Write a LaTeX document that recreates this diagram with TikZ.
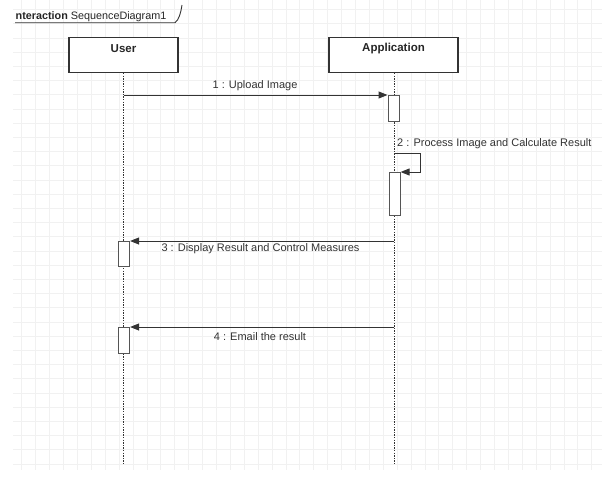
\documentclass[tikz,border=0pt]{standalone}
\usepackage{fontspec}
\setmainfont{Liberation Sans}
\usetikzlibrary{arrows.meta}
\definecolor{gridc}{HTML}{F1F1F1}
\definecolor{linec}{HTML}{333333}
\definecolor{actc}{HTML}{555555}
\tikzset{
  lifebox/.style={draw=linec, line width=1.1pt, fill=white, minimum width=109pt, minimum height=35pt, inner sep=0pt},
  headtxt/.style={font=\fontsize{11.5}{13}\selectfont\bfseries, inner sep=0pt, text=black!85},
  lifeline/.style={draw=linec, line width=1pt, dash pattern=on 1.3pt off 1.3pt},
  actbox/.style={draw=actc, line width=1.1pt, fill=white, minimum width=11pt, inner sep=0pt},
  msg/.style={draw=linec, line width=1pt, -{Triangle[length=9pt,width=7pt]}},
  msgtxt/.style={font=\fontsize{11}{13}\selectfont, inner sep=0pt, text=black!80},
}
\begin{document}
\begin{tikzpicture}[x=1pt,y=-1pt]
\useasboundingbox (0,0) rectangle (602,477);
\fill[white] (0,0) rectangle (602,477);
% grid
\foreach \gx in {21.7,35.6,...,600} \draw[gridc, line width=0.6pt] (\gx,0) -- (\gx,470);
\foreach \gy in {9.5,23.7,...,470} \draw[gridc, line width=0.6pt] (13,\gy) -- (602,\gy);
% frame tab
\node[anchor=base west, inner sep=0pt, font=\fontsize{10.8}{12}\selectfont, text=black!85] (frametxt) at (15.5,19.3) {\textbf{nteraction} SequenceDiagram1};
\coordinate (tabA) at (15,22.7);
\coordinate (tabB) at (175,22.7);
\coordinate (tabC) at (182,5);
\draw[linec, line width=0.9pt] (tabA) -- (tabB) .. controls (179,20) and (181,12) .. (tabC);
% lifeline heads
\node[lifebox] (user) at (123.5,55) {};
\node[headtxt] (usertxt) at (123.5,48.5) {User};
\node[lifebox, minimum width=129pt] (app) at (393.5,55) {};
\node[headtxt] (apptxt) at (393.5,48.5) {Application};
% lifeline ends
\coordinate (userend) at (123.5,465);
\coordinate (append) at (394,465);
\draw[lifeline] (user.south) -- (userend);
\draw[lifeline] (app.south -| append) -- (append);
% activations
\node[actbox, minimum height=26pt, anchor=north west] (act1) at (387.5,95) {};
\node[actbox, minimum height=43pt, anchor=north west] (act2) at (388.5,172) {};
\node[actbox, minimum height=25pt, anchor=north west] (act3) at (118,241) {};
\node[actbox, minimum height=26pt, anchor=north west] (act4) at (118,327) {};
% message 1
\draw[msg] (userend |- act1.north west) -- (act1.north west);
\node[msgtxt] (m1) at (255,86) {1 : Upload Image};
% message 2 (self)
\coordinate (s1) at (394,153);
\coordinate (s2) at (420,153);
\coordinate (s3) at (420,172);
\draw[msg] (s1) -- (s2) -- (s3) -- (act2.north east);
\node[msgtxt, anchor=west] (m2) at (397,144) {2 : Process Image and Calculate Result};
% message 3
\draw[msg] (append |- act3.north east) -- (act3.north east);
\node[msgtxt] (m3) at (260.5,249) {3 : Display Result and Control Measures};
% message 4
\draw[msg] (append |- act4.north east) -- (act4.north east);
\node[msgtxt] (m4) at (260,337) {4 : Email the result};
\end{tikzpicture}
\end{document}
